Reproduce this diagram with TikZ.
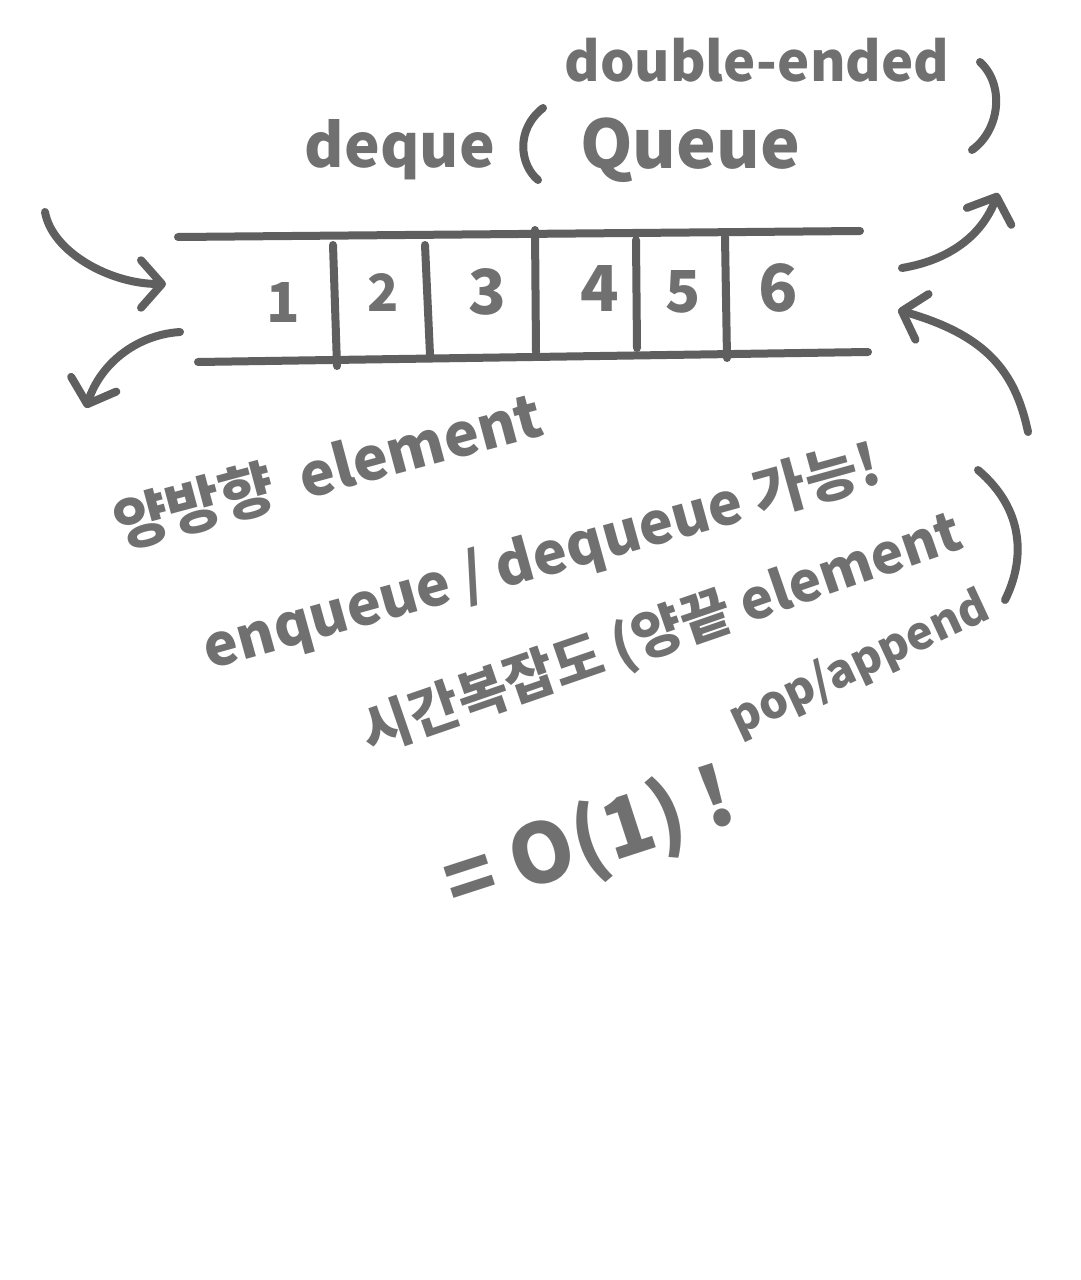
\documentclass[tikz,border=0pt]{standalone}
\usepackage{fontspec}
\setmainfont{Noto Sans CJK KR}
\usetikzlibrary{arrows.meta}
\definecolor{ink}{RGB}{112,112,112}
\definecolor{inkdark}{RGB}{95,95,95}
\newlength\pxu \setlength\pxu{0.02cm}
\newcommand\fitw[2]{\resizebox{#1\pxu}{!}{#2}}
\newcommand\fith[2]{\resizebox{!}{#1\pxu}{#2}}
\tikzset{
  stroke/.style={draw=inkdark, line width=8\pxu, line cap=round, line join=round},
  hand/.style={text=ink, inner sep=0pt, font=\bfseries},
  barb/.style={-{Straight Barb[round, length=0.42cm, width=0.95cm]}},
}
\begin{document}
\begin{tikzpicture}[x=0.02cm,y=-0.02cm]
\useasboundingbox[fill=white] (0,0) rectangle (1080,1280);

% title
\node[hand] (deque) at (400,150) {\fitw{190}{deque}};
\node[hand] (dbl) at (757,60) {\fitw{385}{double-ended}};
\node[hand] (queue) at (690,150) {\fitw{220}{Queue}};
\coordinate (lpT) at (543,108); \coordinate (lpB) at (538,180);
\draw[stroke] (lpT) .. controls (515,130) and (520,165) .. (lpB);
\coordinate (rpT) at (980,62); \coordinate (rpB) at (972,150);
\draw[stroke] (rpT) .. controls (1005,85) and (1000,130) .. (rpB);

% deque cells
\coordinate (tl) at (178,237); \coordinate (tr) at (860,231);
\coordinate (bl) at (198,362); \coordinate (br) at (868,352);
\draw[stroke] (tl) -- (tr);
\draw[stroke] (bl) -- (br);
\draw[stroke] (333,245) -- (337,366);
\draw[stroke] (425,245) -- (430,355);
\draw[stroke] (535,230) -- (536,352);
\draw[stroke] (636,240) -- (637,348);
\draw[stroke] (725,237) -- (727,358);

\node[hand] (n1) at (283,302) {\fith{40}{1}};
\node[hand] (n2) at (383,292) {\fith{38}{2}};
\node[hand] (n3) at (487,292) {\fith{46}{3}};
\node[hand] (n4) at (600,288) {\fith{46}{4}};
\node[hand] (n5) at (683,292) {\fith{42}{5}};
\node[hand] (n6) at (778,288) {\fith{48}{6}};

% arrows
\coordinate (a1s) at (45,212); \coordinate (a1e) at (166,284);
\draw[stroke, barb] (a1s) .. controls (52,252) and (110,284) .. (a1e);
\coordinate (a2s) at (180,332); \coordinate (a2e) at (86,408);
\draw[stroke, barb] (a2s) .. controls (135,335) and (100,365) .. (a2e);
\coordinate (a3s) at (902,268); \coordinate (a3e) at (998,193);
\draw[stroke, barb] (a3s) .. controls (950,260) and (982,235) .. (a3e);
\coordinate (a4s) at (1028,432); \coordinate (a4e) at (898,310);
\draw[stroke, barb] (a4s) .. controls (1015,370) and (985,335) .. (a4e);

% notes
\node[hand, rotate=15] (t1) at (328,470) {\fitw{440}{양방향\ \ element}};
\node[hand, rotate=15.5] (t2) at (542,558) {\fitw{700}{enqueue / dequeue 가능!}};
\node[hand, rotate=19] (t3) at (662,634) {\fitw{630}{시간복잡도 (양끝 element}};
\node[hand, rotate=25] (t4) at (860,664) {\fitw{280}{pop/append}};
\coordinate (cpT) at (978,470); \coordinate (cpB) at (1005,600);
\draw[stroke] (cpT) .. controls (1025,510) and (1025,560) .. (cpB);
\node[hand, rotate=18] (t5) at (590,842) {\fitw{300}{= O(1) !}};
\end{tikzpicture}
\end{document}
